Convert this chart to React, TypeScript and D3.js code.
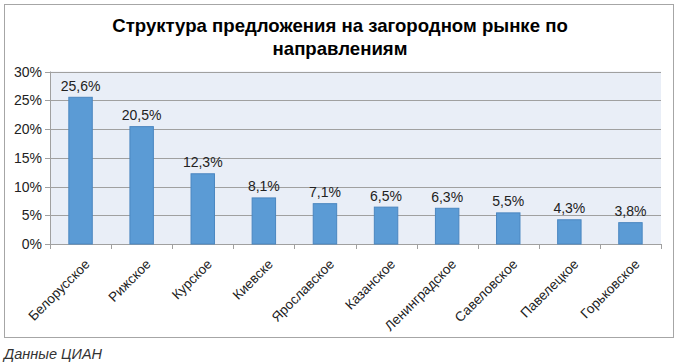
import React, { useEffect, useRef } from 'react';
import * as d3 from 'd3';

const categories = ['Белорусское', 'Рижское', 'Курское', 'Киевске', 'Ярославское', 'Казанское', 'Ленинградское', 'Савеловское', 'Павелецкое', 'Горьковское'];
const values = [25.6, 20.5, 12.3, 8.1, 7.1, 6.5, 6.3, 5.5, 4.3, 3.8];
const yTicks = [0, 5, 10, 15, 20, 25, 30];
const titleLines = ['Структура предложения на загородном рынке по', 'направлениям'];
const caption = 'Данные ЦИАН';

const App = () => {
  const svgRef = useRef<SVGSVGElement>(null);

  useEffect(() => {
    const svg = d3.select(svgRef.current);
    svg.selectAll('*').remove();
    const font = 'Arial, "Liberation Sans", sans-serif';

    // chart frame
    svg.append('rect')
      .attr('x', 4.5).attr('y', 4.5)
      .attr('width', 669).attr('height', 333)
      .attr('fill', '#fff').attr('stroke', '#a6a6a6');

    svg.append('g').selectAll('text')
      .data(titleLines)
      .enter()
      .append('text')
      .attr('x', 340)
      .attr('y', (d, i) => 32 + i * 23)
      .attr('text-anchor', 'middle')
      .attr('font-family', font)
      .attr('font-size', 18.6)
      .attr('font-weight', 'bold')
      .text(d => d);

    const left = 50, right = 661, top = 71.5, bottom = 244;
    const x = d3.scaleBand().domain(categories).range([left, right]).paddingInner(0.6).paddingOuter(0.3);
    const y = d3.scaleLinear().domain([0, 30]).range([bottom, top]);

    svg.append('rect')
      .attr('x', left).attr('y', top)
      .attr('width', right - left).attr('height', bottom - top)
      .attr('fill', '#e9eef7');

    // gridlines
    svg.append('g').selectAll('line')
      .data(yTicks)
      .enter()
      .append('line')
      .attr('x1', left - 5).attr('x2', right)
      .attr('y1', d => Math.round(y(d)) + 0.5).attr('y2', d => Math.round(y(d)) + 0.5)
      .attr('stroke', '#a0a0a0');

    svg.append('line')
      .attr('x1', left + 0.5).attr('x2', left + 0.5)
      .attr('y1', top).attr('y2', bottom)
      .attr('stroke', '#a0a0a0');

    svg.append('g').selectAll('text')
      .data(yTicks)
      .enter()
      .append('text')
      .attr('x', left - 8)
      .attr('y', d => y(d) + 5)
      .attr('text-anchor', 'end')
      .attr('font-family', font)
      .attr('font-size', 14)
      .attr('fill', '#222')
      .text(d => d + '%');

    // category ticks
    const step = x.step();
    const tickXs = d3.range(categories.length + 1).map(i => left + i * step);
    svg.append('g').selectAll('line')
      .data(tickXs)
      .enter()
      .append('line')
      .attr('x1', d => Math.round(d) + 0.5).attr('x2', d => Math.round(d) + 0.5)
      .attr('y1', bottom).attr('y2', bottom + 5)
      .attr('stroke', '#a0a0a0');

    svg.append('g').selectAll('rect')
      .data(values)
      .enter()
      .append('rect')
      .attr('x', (d, i) => x(categories[i])! + 0.5)
      .attr('y', d => y(d) + 0.5)
      .attr('width', x.bandwidth() - 1)
      .attr('height', d => bottom - y(d) - 0.5)
      .attr('fill', '#5b9bd5')
      .attr('stroke', '#4a86c0');

    svg.append('g').selectAll('text')
      .data(values)
      .enter()
      .append('text')
      .attr('x', (d, i) => x(categories[i])! + x.bandwidth() / 2)
      .attr('y', d => y(d) - 6)
      .attr('text-anchor', 'middle')
      .attr('font-family', font)
      .attr('font-size', 14)
      .attr('fill', '#222')
      .text(d => String(d.toFixed(1)).replace('.', ',') + '%');

    svg.append('g').selectAll('text')
      .data(categories)
      .enter()
      .append('text')
      .attr('transform', d => `translate(${x(d)! + x.bandwidth() / 2 + 10},${bottom + 21}) rotate(-45)`)
      .attr('text-anchor', 'end')
      .attr('font-family', font)
      .attr('font-size', 13.5)
      .attr('fill', '#222')
      .text(d => d);

    svg.append('text')
      .attr('x', 4)
      .attr('y', 359)
      .attr('font-family', font)
      .attr('font-size', 14.5)
      .attr('font-style', 'italic')
      .attr('fill', '#333')
      .text(caption);
  }, []);

  return (
    <div style={{ position: 'absolute', left: 0, top: 0 }}>
      <svg ref={svgRef} width={679} height={364}></svg>
    </div>
  );
};

export default App;
